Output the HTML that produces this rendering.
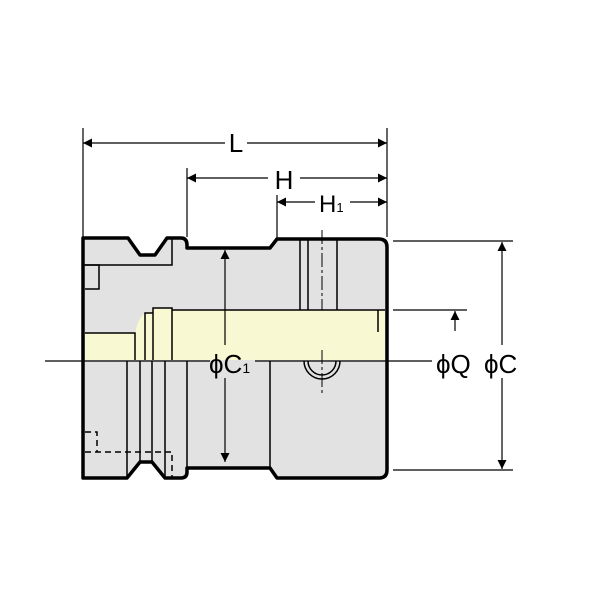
<!DOCTYPE html>
<html><head><style>body{margin:0;background:#fff}svg{display:block}</style></head><body>
<svg width="600" height="600" viewBox="0 0 600 600" xmlns="http://www.w3.org/2000/svg">
<defs>
<marker id="a" viewBox="0 0 10 10" refX="10" refY="5" markerWidth="15" markerHeight="9" markerUnits="userSpaceOnUse" orient="auto-start-reverse"><path d="M0,0L10,5L0,10z" fill="#000"/></marker>
</defs>
<path d="M83,238 H128 L140,255 H155 L167,238 H181 Q187,238 187,245 V248 H270 L277,239 H379 Q387,239 387,247 V470 Q387,478 379,478 H277 L270,468 H187 V472 Q187,478 181,478 H165 L152,462 H140 L127,478 H83 Z" fill="#e2e2e2" stroke="#000" stroke-width="3.5" stroke-linejoin="round"/>
<path d="M85,333 H135 Q138,318 145,313 H153 V308 H172 V310 H385 V360 H85 Z" fill="#f8f8d2"/>
<g stroke="#000" stroke-width="1.5" fill="none">
<path d="M83,265 H172 V238"/>
<path d="M85,265 H99 V289 H85"/>
<path d="M85,333 H135 V360 M145,360 V313 H153 M153,360 V308 H172 V360"/>
<path d="M172,310 H385 M378,310 V332"/>
<path d="M300,240 V310 M308,240 V310 M337,240 V310"/>
<path d="M127,361 V478 M140,361 V462 M152,361 V462 M165,361 V478 M187,361 V468 M270,361 V468"/>
<path d="M304,361 A18,18 0 0 0 340,361 M308,361 A14,14 0 0 0 336,361"/>
<path d="M85,452 H172 V478 M85,432 H97 V452" stroke-dasharray="6,4"/>
</g>
<path d="M322,230 V310 M322,350 V395" stroke="#000" stroke-width="1" stroke-dasharray="14,3,3,3"/>
<path d="M45,361 H210 M255,361 H432" stroke="#000" stroke-width="1.2"/>
<g stroke="#000" stroke-width="1.2" fill="none">
<path d="M83,128 V237 M387,128 V237 M187,168 V237 M277,195 V239"/>
<path d="M83,143 H225 M247,143 H387" marker-start="url(#a)" marker-end="url(#a)"/>
<path d="M187,178 H268 M300,178 H387" marker-start="url(#a)" marker-end="url(#a)"/>
<path d="M277,202 H315 M350,202 H387" marker-start="url(#a)" marker-end="url(#a)"/>
<path d="M225,250 V345 M225,378 V462" marker-start="url(#a)" marker-end="url(#a)"/>
<path d="M393,241 H513 M393,310 H467 M393,470 H513"/>
<path d="M455,331 V311" marker-end="url(#a)"/>
<path d="M502,242 V345 M502,378 V469" marker-start="url(#a)" marker-end="url(#a)"/>
</g>
<g font-family="Liberation Sans, sans-serif" fill="#000">
<text x="236" y="152" font-size="26" text-anchor="middle">L</text>
<text x="284" y="189" font-size="26" text-anchor="middle">H</text>
<text x="319" y="212" font-size="24">H<tspan font-size="13">1</tspan></text>
<text x="209" y="373" font-size="26">ϕC<tspan font-size="14">1</tspan></text>
<text x="436" y="373" font-size="26">ϕQ</text>
<text x="484" y="373" font-size="26">ϕC</text>
</g>
</svg>
</body></html>
